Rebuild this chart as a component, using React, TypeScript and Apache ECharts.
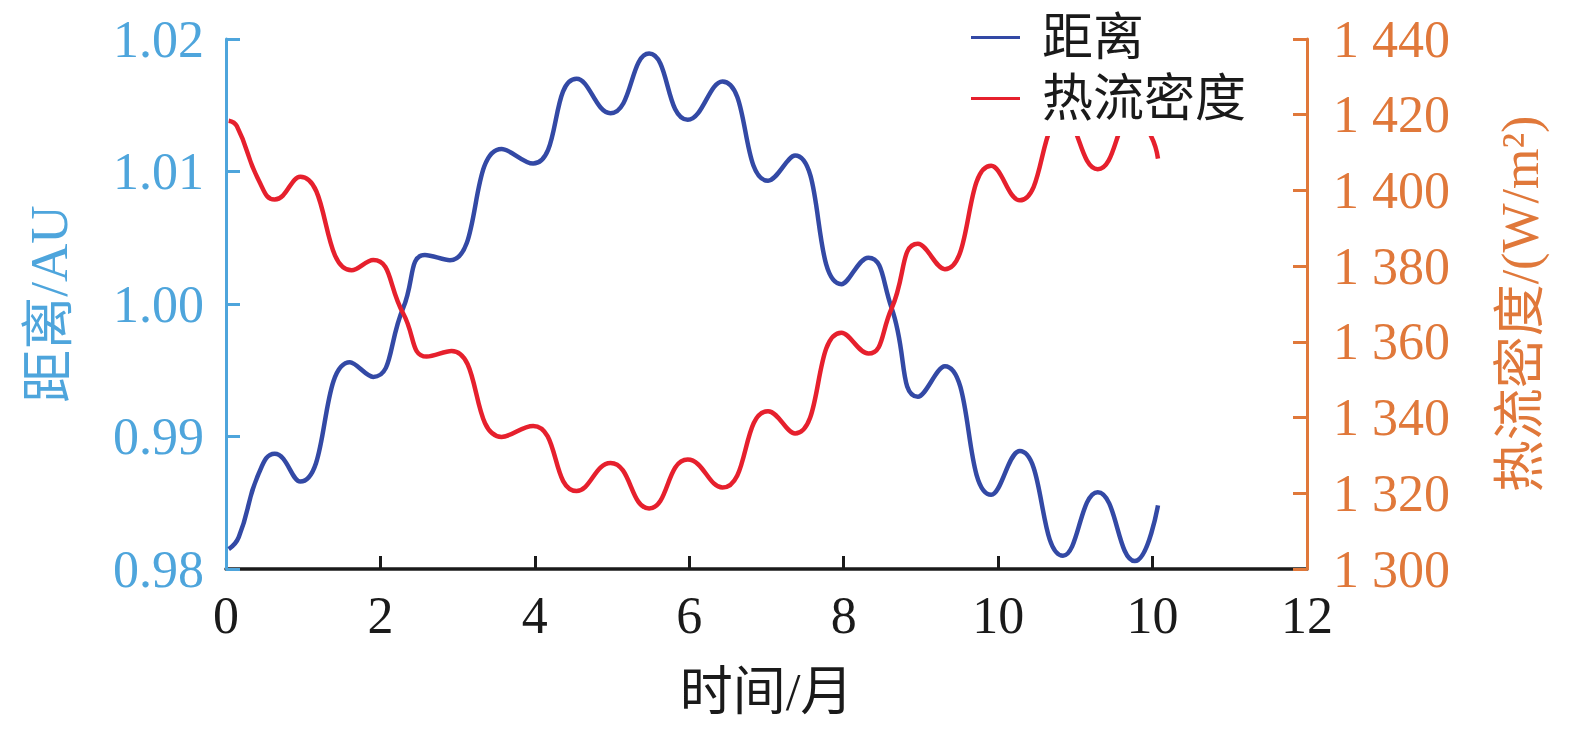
import React, { useEffect, useRef } from 'react';
import * as echarts from 'echarts';

const xTickLabels = ['0', '2', '4', '6', '8', '10', '10', '12'];

const distanceTime = [0.035, 0.165, 0.423, 0.631, 0.962, 1.605, 1.907, 2.295, 2.576, 2.9, 3.569, 3.978, 4.54, 4.98, 5.48, 5.98, 6.43, 7.02, 7.37, 7.97, 8.32, 8.62, 8.96, 9.31, 9.91, 10.28, 10.84, 11.29, 11.77, 12.07];
const distanceValues = [0.9815, 0.9824, 0.9872, 0.9887, 0.9866, 0.9956, 0.9945, 0.9997, 1.0037, 1.0033, 1.0117, 1.0106, 1.017, 1.0144, 1.0189, 1.0139, 1.0168, 1.0093, 1.0112, 1.0015, 1.0035, 0.9997, 0.993, 0.9953, 0.9856, 0.9889, 0.981, 0.9858, 0.9806, 0.9848];

const fluxTime = [0.035, 0.14, 0.423, 0.631, 0.962, 1.627, 1.907, 2.295, 2.598, 2.922, 3.569, 3.978, 4.54, 4.98, 5.48, 5.98, 6.43, 7.02, 7.37, 7.97, 8.32, 8.62, 8.96, 9.31, 9.91, 10.28, 10.84, 11.29, 11.77, 11.98, 12.07];
const fluxValues = [1418.4, 1417.0, 1402.7, 1397.6, 1403.6, 1378.9, 1381.6, 1367.5, 1356.1, 1357.6, 1334.9, 1337.8, 1320.6, 1328.0, 1316.0, 1328.9, 1321.5, 1341.7, 1335.8, 1362.4, 1356.9, 1368.8, 1385.9, 1379.2, 1406.5, 1397.4, 1419.4, 1405.6, 1420.5, 1414.4, 1408.4];

const seriesNames = ['距离', '热流密度'];

const FONT = "'Liberation Serif', 'Noto Sans CJK SC', serif";
const BLUE_AXIS = '#4ea5dc';
const ORANGE_AXIS = '#e0783a';
const BLUE_LINE = '#3349a5';
const RED_LINE = '#e6202d';

export default function App() {
  const ref = useRef<HTMLDivElement>(null);

  useEffect(() => {
    if (!ref.current) return;
    const chart = echarts.init(ref.current, undefined, { renderer: 'svg' });
    const distData = distanceTime.map((t, i) => [t, distanceValues[i]]);
    const fluxData = fluxTime.map((t, i) => [t, fluxValues[i]]);
    chart.setOption({
      animation: false,
      backgroundColor: '#ffffff',
      textStyle: { fontFamily: FONT },
      grid: { left: 226, right: 268, top: 39, bottom: 163, containLabel: false },
      legend: {
        orient: 'vertical',
        left: 959,
        top: 6,
        itemWidth: 49,
        itemHeight: 3,
        itemGap: 10,
        padding: [6, 14, 12, 12],
        backgroundColor: '#ffffff',
        data: [
          { name: seriesNames[0], icon: 'rect' },
          { name: seriesNames[1], icon: 'rect' },
        ],
        textStyle: { fontSize: 51, color: '#1a1a1a', fontFamily: FONT, padding: [0, 0, 0, 17] },
      },
      xAxis: {
        type: 'value',
        min: 0,
        max: 14,
        interval: 2,
        name: '时间/月',
        nameLocation: 'middle',
        nameGap: 96,
        nameTextStyle: { fontSize: 53, color: '#1a1a1a', fontFamily: FONT },
        axisLine: { show: true, lineStyle: { color: '#1a1a1a', width: 3.5 } },
        axisTick: { show: true, inside: true, length: 13, lineStyle: { color: '#1a1a1a', width: 3 } },
        axisLabel: {
          fontSize: 52,
          color: '#1a1a1a',
          fontFamily: FONT,
          margin: 20,
          formatter: (v: number) => xTickLabels[Math.round(v / 2)] ?? '',
        },
        splitLine: { show: false },
        z: 0,
      },
      yAxis: [
        {
          type: 'value',
          position: 'left',
          min: 0.98,
          max: 1.02,
          interval: 0.01,
          name: '距离/AU',
          nameLocation: 'middle',
          nameGap: 151,
          nameTextStyle: { fontSize: 53, color: BLUE_AXIS, fontFamily: FONT },
          axisLine: { show: true, lineStyle: { color: BLUE_AXIS, width: 3 } },
          axisTick: { show: true, inside: true, length: 14, lineStyle: { color: BLUE_AXIS, width: 3 } },
          axisLabel: {
            fontSize: 52,
            color: BLUE_AXIS,
            fontFamily: FONT,
            margin: 22,
            formatter: (v: number) => v.toFixed(2),
          },
          splitLine: { show: false },
          z: 1,
        },
        {
          type: 'value',
          position: 'right',
          min: 1300,
          max: 1440,
          interval: 20,
          name: '热流密度/(W/m²)',
          nameLocation: 'middle',
          nameGap: 187,
          nameTextStyle: { fontSize: 52, color: ORANGE_AXIS, fontFamily: FONT },
          axisLine: { show: true, lineStyle: { color: ORANGE_AXIS, width: 3 } },
          axisTick: { show: true, inside: true, length: 14, lineStyle: { color: ORANGE_AXIS, width: 3 } },
          axisLabel: {
            fontSize: 52,
            color: ORANGE_AXIS,
            fontFamily: FONT,
            margin: 26,
            formatter: (v: number) => `${Math.floor(v / 1000)} ${String(Math.round(v % 1000)).padStart(3, '0')}`,
          },
          splitLine: { show: false },
          z: 1,
        },
      ],
      series: [
        {
          name: seriesNames[0],
          type: 'line',
          xAxisIndex: 0,
          yAxisIndex: 0,
          data: distData,
          smooth: 0.5,
          showSymbol: false,
          symbol: 'none',
          lineStyle: { color: BLUE_LINE, width: 4.5 },
          itemStyle: { color: BLUE_LINE },
          z: 2,
        },
        {
          name: seriesNames[1],
          type: 'line',
          xAxisIndex: 0,
          yAxisIndex: 1,
          data: fluxData,
          smooth: 0.5,
          showSymbol: false,
          symbol: 'none',
          lineStyle: { color: RED_LINE, width: 4.5 },
          itemStyle: { color: RED_LINE },
          z: 2,
        },
      ],
    });
    return () => chart.dispose();
  }, []);

  return (
    <div
      ref={ref}
      style={{ position: 'fixed', left: 0, top: 0, width: 1575, height: 732, background: '#fff' }}
    />
  );
}
